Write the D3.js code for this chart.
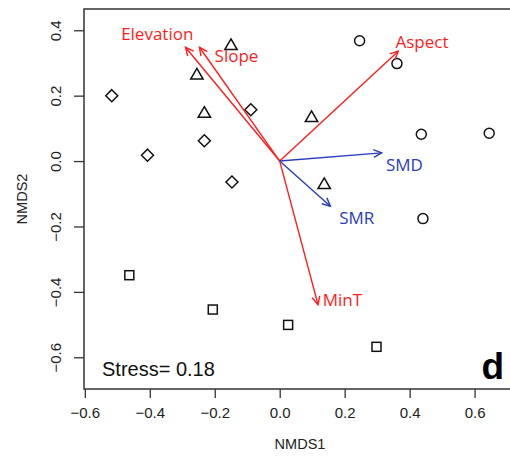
<!DOCTYPE html>
<html>
<head>
<meta charset="utf-8">
<script src="https://cdn.jsdelivr.net/npm/d3@7"></script>
<style>
  body { margin: 0; background: #fff; }
  svg { display: block; }
</style>
</head>
<body>
<div id="chart"></div>
<script>
// site scores (NMDS1, NMDS2), one array per group
const diamonds = [[-0.517, 0.200], [-0.407, 0.018], [-0.232, 0.062], [-0.147, -0.064], [-0.089, 0.157]];
const triangles = [[-0.150, 0.355], [-0.255, 0.265], [-0.232, 0.148], [0.098, 0.135], [0.137, -0.070]];
const circles = [[0.246, 0.368], [0.361, 0.298], [0.436, 0.082], [0.645, 0.085], [0.441, -0.176]];
const squares = [[-0.463, -0.349], [-0.206, -0.454], [0.026, -0.501], [0.298, -0.568]];

// environmental vectors
const vecNames = ["Elevation", "Slope", "Aspect", "SMD", "SMR", "MinT"];
const vecX = [-0.290, -0.247, 0.365, 0.314, 0.156, 0.118];
const vecY = [0.348, 0.348, 0.336, 0.025, -0.138, -0.439];
const labX = [-0.377, -0.133, 0.438, 0.384, 0.237, 0.193];
const labY = [0.387, 0.320, 0.365, -0.013, -0.173, -0.426];
const vecGroup = ["red", "red", "red", "blue", "blue", "red"];

const xTicks = [-0.6, -0.4, -0.2, 0.0, 0.2, 0.4, 0.6];
const yTicks = [-0.6, -0.4, -0.2, 0.0, 0.2, 0.4];
const stressLabel = "Stress= 0.18";
const panelLabel = "d";

const width = 510, height = 461;
const box = { left: 84, right: 516, top: 9, bottom: 389 };
const colors = { red: "#ff1c1c", blue: "#2a3cc0" };

const svg = d3.select("#chart").append("svg")
  .attr("width", width)
  .attr("height", height);

const x = d3.scaleLinear().domain([-0.6025, 0.7275]).range([box.left, box.right]);
const y = d3.scaleLinear().domain([-0.697, 0.465]).range([box.bottom, box.top]);

const fmt = d => d3.format(".1f")(d).replace("-", "\u2212");

// axes
const xAxis = svg.append("g")
  .attr("transform", `translate(0,${box.bottom})`)
  .call(d3.axisBottom(x).tickValues(xTicks).tickSize(9).tickPadding(9).tickFormat(fmt));
const yAxis = svg.append("g")
  .attr("transform", `translate(${box.left},0)`)
  .call(d3.axisLeft(y).tickValues(yTicks).tickSize(10).tickFormat(fmt));

[xAxis, yAxis].forEach(a => {
  a.select(".domain").remove();
  a.selectAll(".tick line").attr("stroke", "#333").attr("stroke-width", 1.3);
  a.selectAll("text")
    .attr("fill", "#222")
    .style("font-family", "Liberation Sans, Arial, sans-serif")
    .style("font-size", "15px");
});
xAxis.selectAll("text").attr("dy", "0.71em");
yAxis.selectAll(".tick text")
  .attr("x", 0)
  .attr("text-anchor", "middle")
  .attr("transform", "translate(-28,0) rotate(-90)")
  .attr("dy", "0.35em");

// frame
svg.append("rect")
  .attr("x", box.left).attr("y", box.top)
  .attr("width", box.right - box.left).attr("height", box.bottom - box.top)
  .attr("fill", "none").attr("stroke", "#333").attr("stroke-width", 1.5);

// axis titles
svg.append("text")
  .attr("x", (box.left + box.right) / 2).attr("y", 449)
  .attr("text-anchor", "middle")
  .style("font-family", "Liberation Sans, Arial, sans-serif").style("font-size", "14.5px")
  .attr("fill", "#222")
  .text("NMDS1");
svg.append("text")
  .attr("transform", `translate(27,${(box.top + box.bottom) / 2}) rotate(-90)`)
  .attr("text-anchor", "middle")
  .style("font-family", "Liberation Sans, Arial, sans-serif").style("font-size", "14.5px")
  .attr("fill", "#222")
  .text("NMDS2");

// points
const plot = svg.append("g").attr("fill", "none").attr("stroke", "#111").attr("stroke-width", 1.5);

plot.selectAll(".diamond").data(diamonds).join("path")
  .attr("transform", d => `translate(${x(d[0])},${y(d[1])})`)
  .attr("d", "M0,-6L6,0L0,6L-6,0Z");
plot.selectAll(".tri").data(triangles).join("path")
  .attr("transform", d => `translate(${x(d[0])},${y(d[1])})`)
  .attr("d", "M0,-6L6.2,4.6L-6.2,4.6Z");
plot.selectAll(".circ").data(circles).join("circle")
  .attr("cx", d => x(d[0])).attr("cy", d => y(d[1])).attr("r", 5);
plot.selectAll(".sq").data(squares).join("rect")
  .attr("x", d => x(d[0]) - 4.5).attr("y", d => y(d[1]) - 4.5)
  .attr("width", 9).attr("height", 9);

// vectors
const vectors = vecNames.map((n, i) => ({ name: n, x: vecX[i], y: vecY[i], lx: labX[i], ly: labY[i], g: vecGroup[i] }));

const arrowHead = d => {
  const x0 = x(0), y0 = y(0), x1 = x(d.x), y1 = y(d.y);
  const ang = Math.atan2(y1 - y0, x1 - x0);
  const len = 9, spread = Math.PI / 7;
  const a1 = ang + Math.PI - spread, a2 = ang + Math.PI + spread;
  return `M${x1 + len * Math.cos(a1)},${y1 + len * Math.sin(a1)}L${x1},${y1}L${x1 + len * Math.cos(a2)},${y1 + len * Math.sin(a2)}`;
};

const vg = svg.append("g");
vg.selectAll("line").data(vectors).join("line")
  .attr("x1", x(0)).attr("y1", y(0))
  .attr("x2", d => x(d.x)).attr("y2", d => y(d.y))
  .attr("stroke", d => colors[d.g]).attr("stroke-width", 1.4);
vg.selectAll(".head").data(vectors).join("path")
  .attr("d", arrowHead)
  .attr("fill", "none")
  .attr("stroke", d => colors[d.g]).attr("stroke-width", 1.4);
vg.selectAll("text").data(vectors).join("text")
  .attr("x", d => x(d.lx)).attr("y", d => y(d.ly))
  .attr("dy", "0.35em")
  .attr("text-anchor", "middle")
  .style("font-family", "Open Sans, sans-serif").style("font-size", "17px")
  .attr("fill", d => colors[d.g])
  .text(d => d.name);

// annotations
svg.append("text")
  .attr("x", 102).attr("y", 376)
  .style("font-family", "Liberation Sans, Arial, sans-serif").style("font-size", "20px")
  .attr("fill", "#111")
  .text(stressLabel);
svg.append("text")
  .attr("x", 504).attr("y", 379)
  .attr("text-anchor", "end")
  .style("font-family", "Liberation Sans, Arial, sans-serif").style("font-size", "37px")
  .style("font-weight", "bold")
  .attr("fill", "#000")
  .text(panelLabel);
</script>
</body>
</html>
